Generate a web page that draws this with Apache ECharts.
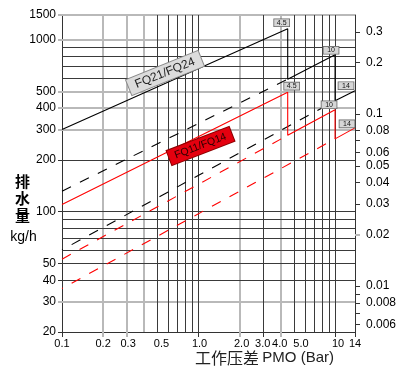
<!DOCTYPE html>
<html><head><meta charset="utf-8">
<script src="https://cdn.jsdelivr.net/npm/echarts@6/dist/echarts.min.js"></script>
<style>html,body{margin:0;padding:0;background:#fff}#c{width:412px;height:385px}</style>
</head><body><div id="c"></div>
<script>
// ---------------- data ----------------
// FQ21/FQ24 (black) – max-capacity envelope: orifice 4.5 -> drop -> orifice 10 -> drop -> orifice 14
const fq21Pressure = [0.1, 4.5, 4.5, 10, 10, 14];          // bar
const fq21Capacity = [300, 1156, 589, 816, 441, 505];      // kg/h
// FQ21/FQ24 dashed extensions of the larger orifices at low pressure
const fq21Dash10Pressure = [0.1, 4.5];
const fq21Dash10Capacity = [131.6, 589];
const fq21Dash14Pressure = [0.1, 10];
const fq21Dash14Capacity = [60, 441];
// FQ11/FQ14 (red)
const fq11Pressure = [0.1, 4.5, 4.5, 10, 10, 14];
const fq11Capacity = [110, 495, 278, 391, 265, 307];
const fq11Dash10Pressure = [0.1, 4.5];
const fq11Dash10Capacity = [53, 278];
const fq11Dash14Pressure = [0.1, 10];
const fq11Dash14Capacity = [35.8, 265];
// orifice tags and the envelope points they belong to
const orificeTags = ['4.5', '10', '14'];
const orificeTagIndex = [1, 3, 5];

// axes
const X_MIN = 0.1, X_MAX = 14;
const Y_MIN = 20, Y_MAX = 1390;          // top border is labelled 1500 in the original
const R_MIN = 0.005413, R_MAX = 0.3763;  // right-hand scale
const xTickValues = [0.1, 0.2, 0.3, 0.5, 1, 2, 3, 4, 5, 10, 14];
const xTickLabels = ['0.1', '0.2', '0.3', '0.5', '1.0', '2.0', '3.0', '4.0', '5.0', '10', '14'];
const xTickDark = [0.1, 1, 3, 10, 14];
const xTickGrey = [0.2, 0.3, 2, 4];
const yTickValues = [20, 30, 40, 50, 100, 200, 300, 400, 500, 1000, 1500];
const yTickLabels = ['20', '30', '40', '50', '100', '200', '300', '400', '500', '1000', '1500'];
const yTickDark = [20, 40, 50, 100, 200];
const yTickGrey = [30, 300, 400, 500, 1000, 1500];
const rTickValues = [0.3, 0.2, 0.1, 0.08, 0.06, 0.05, 0.04, 0.03, 0.02, 0.01, 0.008, 0.006];
const rTickLabels = ['0.3', '0.2', '0.1', '0.08', '0.06', '0.05', '0.04', '0.03', '0.02', '0.01', '0.008', '0.006'];
const rTickDark = [0.3, 0.2, 0.1, 0.08, 0.07, 0.06, 0.05, 0.04, 0.03, 0.01, 0.009, 0.008, 0.007, 0.006];
const rTickGrey = [0.02];
// grid lines
const xGridDark = [0.5, 0.6, 0.7, 0.8, 0.9, 1, 3, 5, 6, 7, 8, 9, 10];
const xGridGrey = [0.2, 0.3, 0.4, 2, 4];
const yGridDark = [40, 50, 60, 70, 80, 90, 100, 200, 600, 700, 800, 900];
const yGridGrey = [30, 300, 400, 500, 1000];

// ---------------- styling ----------------
// small horizontal nudges of the x tick labels (px), as placed in the original
const xLabelNudge = [0, 0, 1, 4, 1, 2, -1, -1, 7, 3, 0];

const fontLatin = '"Liberation Sans", Arial, Helvetica, sans-serif';
const fontCJK = '"Noto Sans CJK SC", sans-serif';
const L = Math.log10;
const pts = (P, W) => P.map((p, i) => [p, W[i]]);
function findIdx(values, maxV, v) {
  for (let i = 0; i < values.length; i++) if (Math.abs(L(Math.min(values[i], maxV)) - v) < 1e-4) return i;
  return -1;
}
function fmt(values, labels, maxV) {
  return v => { const i = findIdx(values, maxV, v); return i < 0 ? '' : labels[i]; };
}
const xRich = {};
xLabelNudge.forEach((n, i) => {
  xRich['n' + i] = { fontSize: 11, fontFamily: fontLatin, color: '#000',
    padding: n >= 0 ? [0, 0, 0, 2 * n] : [0, -2 * n, 0, 0] };
});
function xFmt(v) {
  const i = findIdx(xTickValues, X_MAX, v);
  return i < 0 ? '' : '{n' + i + '|' + xTickLabels[i] + '}';
}

const darkLine = { color: '#3a3a3a', width: 1, type: 'solid' };
const greyLine = { color: '#b9b9b9', width: 2, type: 'solid' };
const gridLines = [].concat(
  xGridGrey.map(v => ({ xAxis: v, lineStyle: greyLine })),
  yGridGrey.map(v => ({ yAxis: v, lineStyle: greyLine })),
  [{ yAxis: Y_MAX, lineStyle: greyLine }],
  xGridDark.map(v => ({ xAxis: v, lineStyle: darkLine })),
  yGridDark.map(v => ({ yAxis: v, lineStyle: darkLine }))
);

const smallBox = { show: true, position: 'inside', fontSize: 7, lineHeight: 7, color: '#111', fontFamily: fontLatin,
  backgroundColor: '#d6d6d6', borderColor: '#666', borderWidth: 0.8, padding: [0, 2], width: 11, align: 'center' };
const blackTagOffsets = [[-6, -6], [-4, -4.5], [-9, -5]];
const redTagOffsets = [[4, -6], [-6, -5], [-8, -4]];
function tags(P, W, offsets) {
  return orificeTags.map((t, k) => ({
    coord: [P[orificeTagIndex[k]], W[orificeTagIndex[k]]],
    label: Object.assign({}, smallBox, { formatter: t, offset: offsets[k] })
  }));
}
const markBase = { symbol: 'circle', symbolSize: 0.1, itemStyle: { color: 'rgba(0,0,0,0)' }, silent: true, animation: false };

const dashed = [10, 10];
function lineSeries(name, data, color, type, extra) {
  return Object.assign({
    name, type: 'line', data, symbol: 'none', silent: true, z: 10, animation: false,
    lineStyle: { color, width: 1.1, type }
  }, extra || {});
}

const valueAxisBase = { type: 'value', splitLine: { show: false }, axisLine: { show: false, onZero: false } };

const option = {
  animation: false,
  backgroundColor: '#fff',
  grid: { left: 62, top: 15, width: 293, height: 317, outerBoundsMode: 'none' },
  xAxis: [
    { type: 'log', logBase: 10, min: X_MIN, max: X_MAX, show: false },
    Object.assign({}, valueAxisBase, {
      min: L(X_MIN), max: L(X_MAX), position: 'bottom',
      axisLine: { show: true, onZero: false, lineStyle: { color: '#333', width: 1 } },
      axisTick: { show: true, customValues: xTickDark.map(L), length: 5, lineStyle: { color: '#333', width: 1 } },
      axisLabel: { show: true, customValues: xTickValues.map(L), formatter: xFmt, rich: xRich,
        margin: 6, fontSize: 11, color: '#000', fontFamily: fontLatin }
    }),
    Object.assign({}, valueAxisBase, {
      min: L(X_MIN), max: L(X_MAX), position: 'bottom',
      axisTick: { show: true, customValues: xTickGrey.map(L), length: 5, lineStyle: { color: '#b9b9b9', width: 2 } },
      axisLabel: { show: false }
    })
  ],
  yAxis: [
    { type: 'log', logBase: 10, min: Y_MIN, max: Y_MAX, show: false },
    Object.assign({}, valueAxisBase, {
      min: L(Y_MIN), max: L(Y_MAX), position: 'left',
      axisLine: { show: true, onZero: false, lineStyle: { color: '#333', width: 1 } },
      axisTick: { show: true, customValues: yTickDark.map(L), length: 4, lineStyle: { color: '#333', width: 1 } },
      axisLabel: { show: true, customValues: yTickValues.map(v => L(Math.min(v, Y_MAX))),
        formatter: fmt(yTickValues, yTickLabels, Y_MAX), margin: 6, fontSize: 12, color: '#000', fontFamily: fontLatin }
    }),
    Object.assign({}, valueAxisBase, {
      min: L(Y_MIN), max: L(Y_MAX), position: 'left',
      axisTick: { show: true, customValues: yTickGrey.map(v => L(Math.min(v, Y_MAX))), length: 4, lineStyle: { color: '#b9b9b9', width: 2 } },
      axisLabel: { show: false }
    }),
    Object.assign({}, valueAxisBase, {
      min: L(R_MIN), max: L(R_MAX), position: 'right',
      axisLine: { show: true, onZero: false, lineStyle: { color: '#333', width: 1 } },
      axisTick: { show: true, customValues: rTickDark.map(L), length: 5, lineStyle: { color: '#333', width: 1 } },
      axisLabel: { show: true, customValues: rTickValues.map(L), formatter: fmt(rTickValues, rTickLabels, R_MAX),
        margin: 11, fontSize: 12, color: '#000', fontFamily: fontLatin }
    }),
    Object.assign({}, valueAxisBase, {
      min: L(R_MIN), max: L(R_MAX), position: 'right',
      axisTick: { show: true, customValues: rTickGrey.map(L), length: 5, lineStyle: { color: '#b9b9b9', width: 2 } },
      axisLabel: { show: false }
    })
  ],
  series: [
    { name: 'grid', type: 'line', data: [], z: 1, silent: true,
      markLine: { silent: true, symbol: ['none', 'none'], label: { show: false }, animation: false, z: 1, data: gridLines } },
    lineSeries('FQ21/FQ24', pts(fq21Pressure, fq21Capacity), '#000', 'solid', {
      markPoint: Object.assign({}, markBase, { z: 20, data: [
        { coord: [0.568, 640], label: { show: true, position: 'inside', formatter: 'FQ21/FQ24', rotate: 22,
          fontSize: 12, color: '#222', fontFamily: fontLatin, backgroundColor: '#dcdcdc', borderColor: '#8a8a8a',
          borderWidth: 1, padding: [2, 7] } }
      ].concat(tags(fq21Pressure, fq21Capacity, blackTagOffsets)) })
    }),
    lineSeries('FQ21/FQ24 10', pts(fq21Dash10Pressure, fq21Dash10Capacity), '#000', dashed),
    lineSeries('FQ21/FQ24 14', pts(fq21Dash14Pressure, fq21Dash14Capacity), '#000', dashed, { lineStyle: { color: '#000', width: 1.1, type: dashed, dashOffset: 9 } }),
    lineSeries('FQ11/FQ14', pts(fq11Pressure, fq11Capacity), '#ff0000', 'solid', {
      markPoint: Object.assign({}, markBase, { z: 20, data: [
        { coord: [1.034, 241], label: { show: true, position: 'inside', formatter: 'FQ11/FQ14', rotate: 21,
          fontSize: 10.5, color: '#2b0000', fontFamily: fontLatin, backgroundColor: '#e4000f', borderColor: '#8b0000',
          borderWidth: 1, padding: [2, 6] } }
      ].concat(tags(fq11Pressure, fq11Capacity, redTagOffsets)) })
    }),
    lineSeries('FQ11/FQ14 10', pts(fq11Dash10Pressure, fq11Dash10Capacity), '#ff0000', dashed),
    lineSeries('FQ11/FQ14 14', pts(fq11Dash14Pressure, fq11Dash14Capacity), '#ff0000', dashed, { lineStyle: { color: '#ff0000', width: 1.1, type: dashed, dashOffset: 9 } })
  ],
  graphic: [
    { type: 'text', x: 22.5, y: 173, silent: true,
      style: { text: '排\n水\n量', font: 'bold 15px "Noto Sans CJK SC"', lineHeight: 17, fill: '#000', align: 'center', verticalAlign: 'top' } },
    { type: 'text', x: 23.5, y: 230, silent: true,
      style: { text: 'kg/h', font: '14px "Liberation Sans"', fill: '#000', align: 'center', verticalAlign: 'top' } },
    { type: 'text', x: 195, y: 350, silent: true,
      style: { text: '{c|工作压差} {l|PMO (Bar)}', fill: '#222', align: 'left', verticalAlign: 'top',
        rich: { c: { fontFamily: fontCJK, fontSize: 16, fill: '#222' }, l: { fontFamily: fontLatin, fontSize: 15, fill: '#222' } } } }
  ]
};
const chart = echarts.init(document.getElementById('c'), null, { renderer: 'canvas' });
chart.setOption(option);
</script></body></html>
